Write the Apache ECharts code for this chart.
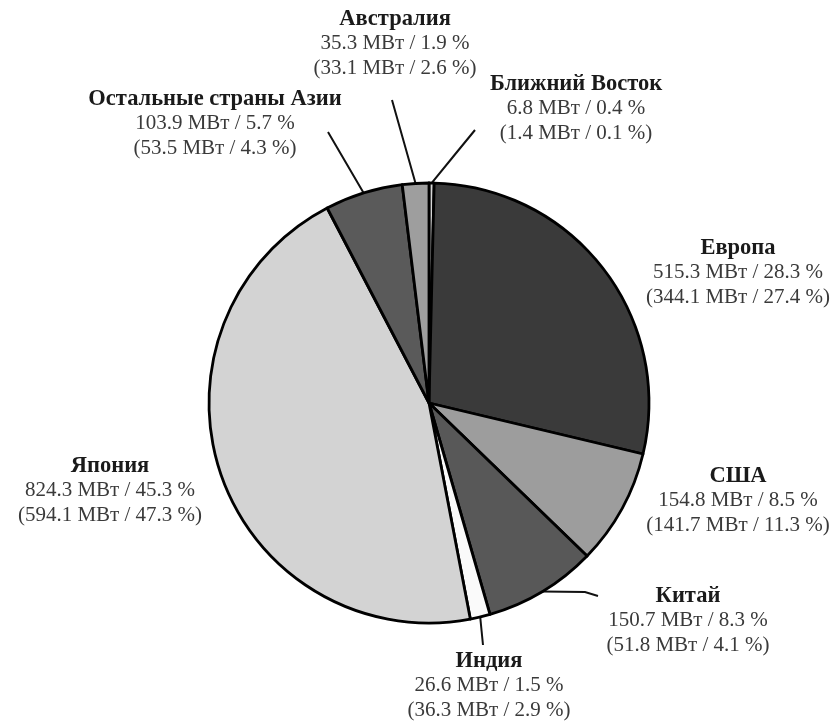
<!DOCTYPE html>
<html>
<head>
<meta charset="utf-8">
<script src="https://cdn.jsdelivr.net/npm/echarts@6/dist/echarts.min.js"></script>
<style>
html,body{margin:0;padding:0;background:#fff;}
#chart{width:839px;height:726px;}
</style>
</head>
<body>
<div id="chart"></div>
<script>
// Data (clockwise from 12 o'clock)
var regions = ['Ближний Восток', 'Европа', 'США', 'Китай', 'Индия', 'Япония', 'Остальные страны Азии', 'Австралия'];
var powerNow = [6.8, 515.3, 154.8, 150.7, 26.6, 824.3, 103.9, 35.3];
var shareNow = ['0.4', '28.3', '8.5', '8.3', '1.5', '45.3', '5.7', '1.9'];
var powerPrev = ['1.4', '344.1', '141.7', '51.8', '36.3', '594.1', '53.5', '33.1'];
var sharePrev = ['0.1', '27.4', '11.3', '4.1', '2.9', '47.3', '4.3', '2.6'];
var sliceColors = ['#d6d6d6', '#3a3a3a', '#9d9d9d', '#585858', '#fafafa', '#d3d3d3', '#5a5a5a', '#9e9e9e'];

// label placement (layout only)
var labelPos = [
  {x: 576, y: 72, line: [475, 130]},
  {x: 738, y: 236},
  {x: 738, y: 464},
  {x: 688, y: 584, line: [598, 596], mid: [585, 592]},
  {x: 489, y: 649, line: [483, 645]},
  {x: 110, y: 454},
  {x: 215, y: 87, line: [328, 132]},
  {x: 395, y: 7, line: [392, 100]}
];

var chart = echarts.init(document.getElementById('chart'), null, {renderer: 'canvas'});
var data = regions.map(function (name, i) {
  return {
    name: name,
    value: powerNow[i],
    itemStyle: {color: sliceColors[i]},
    labelLine: {show: !!labelPos[i].line}
  };
});

chart.setOption({
  backgroundColor: '#ffffff',
  animation: false,
  series: [{
    type: 'pie',
    center: [429, 403],
    radius: [0, 220],
    startAngle: 90,
    clockwise: true,
    avoidLabelOverlap: false,
    data: data,
    itemStyle: {borderColor: '#000', borderWidth: 2.8},
    emphasis: {disabled: true},
    label: {
      show: true,
      position: 'outside',
      formatter: function (p) {
        var i = p.dataIndex;
        return '{t|' + regions[i] + '}\n{v|' + powerNow[i].toFixed(1) + ' МВт / ' + shareNow[i] + ' %}\n{v|(' + powerPrev[i] + ' МВт / ' + sharePrev[i] + ' %)}';
      },
      rich: {
        t: {fontFamily: 'Liberation Serif', fontWeight: 'bold', fontSize: 22.5, color: '#1a1a1a', lineHeight: 24.5, align: 'center'},
        v: {fontFamily: 'Liberation Serif', fontSize: 21, color: '#3a3a3a', lineHeight: 24.5, align: 'center'}
      }
    },
    labelLine: {
      show: true,
      lineStyle: {color: '#111', width: 2}
    },
    labelLayout: function (params) {
      var i = params.dataIndex;
      var lp = labelPos[i];
      var out = {x: lp.x, y: lp.y, align: 'center', verticalAlign: 'top'};
      if (lp.line && params.labelLinePoints) {
        var s = params.labelLinePoints[0];
        var e = lp.line;
        var m = lp.mid || [(s[0] + e[0]) / 2, (s[1] + e[1]) / 2];
        out.labelLinePoints = [[s[0], s[1]], m, e];
      }
      return out;
    }
  }]
});
</script>
</body>
</html>
